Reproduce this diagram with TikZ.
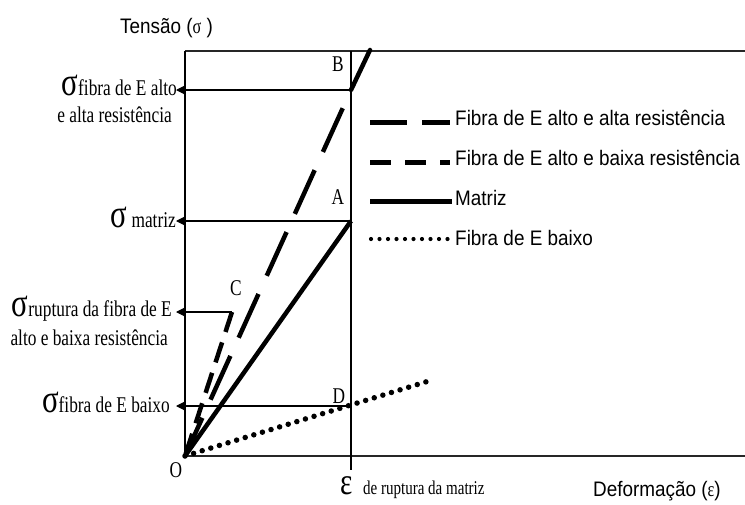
\documentclass[tikz,border=0pt]{standalone}
\usepackage{fontspec}
\setmainfont{Liberation Serif}
\newfontfamily\sansf[FakeStretch=0.9]{Liberation Sans}
\newfontfamily\serf[FakeStretch=0.77]{Liberation Serif}
\usetikzlibrary{arrows.meta}
\newcommand{\bigsig}{{\fontsize{40}{40}\selectfont σ}}
\begin{document}
\begin{tikzpicture}[x=1pt,y=-1pt,
  thinline/.style={line width=1.1pt},
  frameline/.style={line width=1.5pt, draw=black!85},
  curve/.style={line width=4.5pt},
  longdash/.style={curve, dash pattern=on 48pt off 20pt},
  shortdash/.style={curve, dash pattern=on 21pt off 11pt},
  dotline/.style={line width=5.5pt, line cap=round, dash pattern=on 0pt off 9pt},
  arr/.style={thinline, -{Triangle[length=9pt,width=9pt]}},
  lab/.style={font=\serf\fontsize{22.5}{26}\selectfont, inner sep=0pt},
  sans/.style={font=\sansf\fontsize{21}{24}\selectfont, inner sep=0pt},
  legline/.style={line width=5pt}
]
\useasboundingbox (0,0) rectangle (745,504);
% key points
\coordinate (O) at (185,456);
\coordinate (A) at (351,221);
\coordinate (B) at (351,90);
\coordinate (Btop) at (370,50);
\coordinate (C) at (232,312);
\coordinate (D) at (351,406);
\coordinate (Dend) at (432,380);
\coordinate (Ytop) at (185,51);
\coordinate (TR) at (745,51);
\coordinate (XR) at (745,456);
\coordinate (Et) at (351,51);
\coordinate (Eb) at (351,470);
\coordinate (aB) at (176,90);
\coordinate (aA) at (176,221);
\coordinate (aC) at (176,312);
\coordinate (aD) at (176,406);
% frame and axes
\draw[frameline] (Ytop) -- (TR);
\draw[frameline] (O) -- (XR);
\draw[thinline] (Ytop) -- (O);
\draw[thinline] (Et) -- (Eb);
% arrows to the stress axis
\draw[arr] (B) -- (aB);
\draw[arr] (A) -- (aA);
\draw[arr] (C) -- (aC);
\draw[arr] (D) -- (aD);
% curves
\draw[longdash, dash phase=48pt] (B) -- (O);
\draw[curve, line cap=round] (B) -- (Btop);
\draw[shortdash] (C) -- (O);
\draw[curve] (O) -- (A);
\draw[dotline] (O) -- (Dend);
% point labels
\node[lab] (lB) at (338,64) {B};
\node[lab] (lA) at (338,197) {A};
\node[lab] (lC) at (236,288) {C};
\node[lab] (lD) at (339,396) {D};
\node[lab] (lO) at (176,470) {O};
% stress labels
\node[lab, anchor=base east] (sB) at (177,95) {\bigsig fibra de E alto};
\node[lab, anchor=base east] (sB2) at (172,122) {e alta resistência};
\node[lab, anchor=base east] (sA) at (176,227) {\bigsig\ matriz};
\node[lab, anchor=base east] (sC) at (172,316) {\bigsig ruptura da fibra de E};
\node[lab, anchor=base east] (sC2) at (168,345) {alto e baixa resistência};
\node[lab, anchor=base east] (sD) at (170,412) {\bigsig fibra de E baixo};
% axis titles
\node[sans, anchor=base west] (ty) at (120,33) {Tensão ({\serf σ} )};
\node[sans, anchor=base west] (tx) at (593,496) {Deformação ({\serf ε})};
\node[lab, anchor=base west] (eps) at (340,494) {{\fontsize{38}{38}\selectfont ε}};
\node[lab, anchor=base west, font=\serf\fontsize{19.5}{22}\selectfont] (epst) at (363,494) {de ruptura da matriz};
% legend
\coordinate (L1a) at (370,122); \coordinate (L1b) at (450,122);
\coordinate (L2a) at (370,162); \coordinate (L2b) at (450,162);
\coordinate (L3a) at (370,201); \coordinate (L3b) at (452,201);
\coordinate (L4a) at (371,239); \coordinate (L4b) at (448,239);
\draw[legline, dash pattern=on 37pt off 15pt] (L1a) -- (L1b);
\draw[legline, dash pattern=on 21pt off 14pt] (L2a) -- (L2b);
\draw[legline] (L3a) -- (L3b);
\draw[line width=4.2pt, line cap=round, dash pattern=on 0pt off 8.5pt] (L4a) -- (L4b);
\node[sans, anchor=base west] (t1) at (455,125) {Fibra de E alto e alta resistência};
\node[sans, anchor=base west] (t2) at (455,165) {Fibra de E alto e baixa resistência};
\node[sans, anchor=base west] (t3) at (455,205) {Matriz};
\node[sans, anchor=base west] (t4) at (455,245) {Fibra de E baixo};
\end{tikzpicture}
\end{document}
